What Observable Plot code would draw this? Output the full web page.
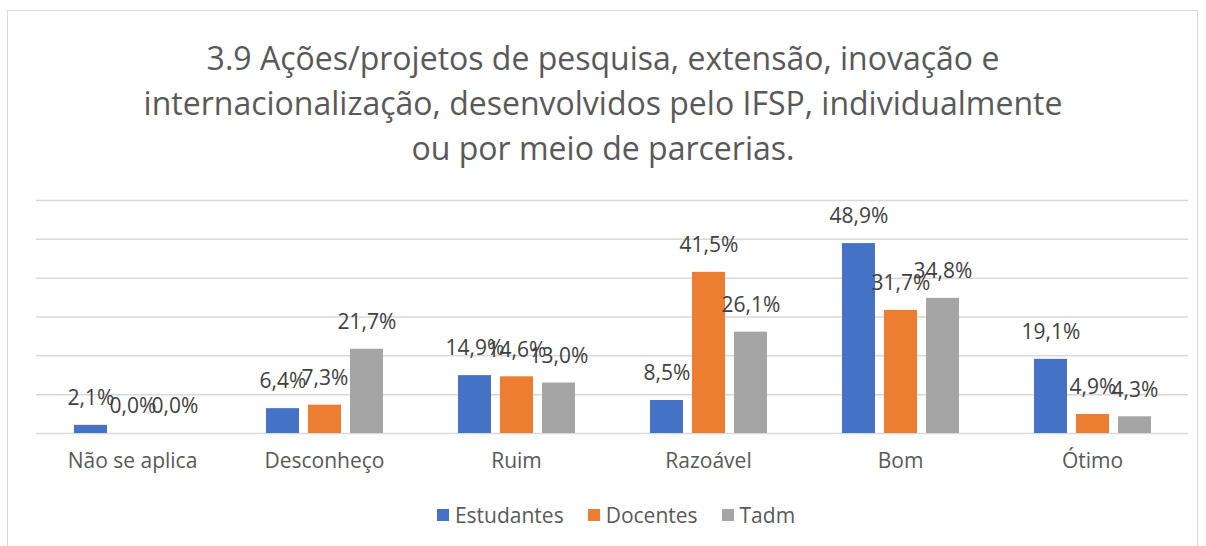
<!DOCTYPE html>
<html>
<head>
<meta charset="utf-8">
<script src="https://cdn.jsdelivr.net/npm/d3@7"></script>
<script src="https://cdn.jsdelivr.net/npm/@observablehq/plot@0.6"></script>
<style>
  html, body { margin: 0; padding: 0; background: #fff; }
  body { width: 1206px; height: 546px; position: relative; overflow: hidden; font-family: "Open Sans", sans-serif; }
  #frame { position: absolute; left: 7px; top: 10px; width: 1191px; height: 600px; border: 1px solid #d9d9d9; box-sizing: border-box; }
  #title { position: absolute; left: 7px; width: 1192px; top: 35px; text-align: center; font-size: 32px; line-height: 45px; color: #595959; }
  #chart { position: absolute; left: 0; top: 190px; }
  #legend { position: absolute; left: 13px; width: 1206px; top: 501px; display: flex; justify-content: center; align-items: center; font-size: 21px; color: #595959; gap: 24px; }
  .item { display: flex; align-items: center; gap: 6px; }
  .sw { width: 12px; height: 12px; display: inline-block; }
</style>
</head>
<body>
<div id="frame"></div>
<div id="title">3.9 Ações/projetos de pesquisa, extensão, inovação e<br>internacionalização, desenvolvidos pelo IFSP, individualmente<br>ou por meio de parcerias.</div>
<div id="chart"></div>
<div id="legend"></div>
<script>
const categories = ["Não se aplica", "Desconheço", "Ruim", "Razoável", "Bom", "Ótimo"];
const series = ["Estudantes", "Docentes", "Tadm"];
const estudantes = [2.1, 6.4, 14.9, 8.5, 48.9, 19.1];
const docentes = [0.0, 7.3, 14.6, 41.5, 31.7, 4.9];
const tadm = [0.0, 21.7, 13.0, 26.1, 34.8, 4.3];
const colors = ["#4472C4", "#ED7D31", "#A5A5A5"];
const gridTicks = [0, 10, 20, 30, 40, 50, 60];

const seriesValues = [estudantes, docentes, tadm];
const data = categories.flatMap((c, i) => series.map((s, j) => ({categoria: c, serie: s, valor: seriesValues[j][i]})));
const fmt = v => v.toFixed(1).replace(".", ",") + "%";

const chart = Plot.plot({
  width: 1206,
  height: 290,
  marginTop: 10,
  marginBottom: 47,
  marginLeft: 36,
  marginRight: 18,
  style: {fontFamily: "'Open Sans', sans-serif", fontSize: "21px", color: "#595959", background: "transparent"},
  fx: {domain: categories, padding: 0, label: null, axis: "bottom", tickSize: 0, tickPadding: 20},
  x: {domain: series, paddingInner: 0.2235, paddingOuter: 0.871, axis: null},
  y: {domain: [0, 60], axis: null},
  color: {domain: series, range: colors},
  marks: [
    Plot.ruleY(gridTicks, {stroke: "#d9d9d9", strokeWidth: 1.5}),
    Plot.barY(data, {fx: "categoria", x: "serie", y: "valor", fill: "serie"}),
    Plot.text(data, {fx: "categoria", x: "serie", y: "valor", text: d => fmt(d.valor), dy: -27, fill: "#404040", fontSize: 21})
  ]
});
document.getElementById("chart").appendChild(chart);

const legend = document.getElementById("legend");
series.forEach((s, i) => {
  const it = document.createElement("div");
  it.className = "item";
  it.innerHTML = `<span class="sw" style="background:${colors[i]}"></span><span>${s}</span>`;
  legend.appendChild(it);
});
</script>
</body>
</html>
